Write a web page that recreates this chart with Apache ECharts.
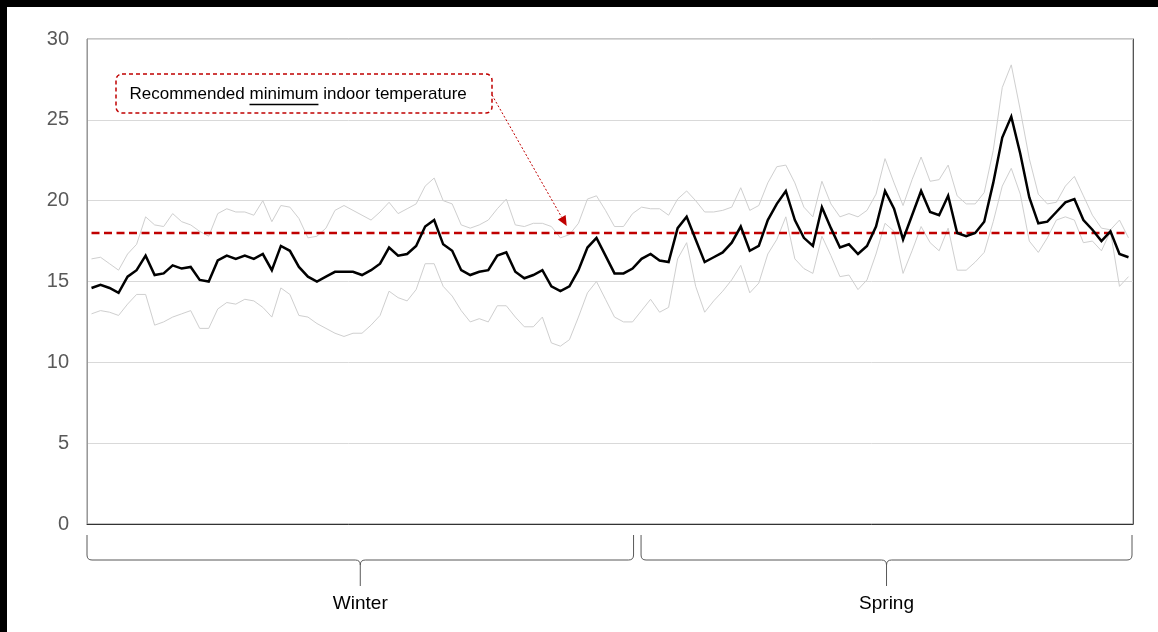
<!DOCTYPE html>
<html>
<head>
<meta charset="utf-8">
<script src="https://cdn.jsdelivr.net/npm/echarts@6/dist/echarts.min.js"></script>
<style>
  html, body { margin: 0; padding: 0; background: #fff; }
  #chart { width: 1158px; height: 632px; }
</style>
</head>
<body>
<div id="chart"></div>
<script>
// ---- data (daily indoor temperature, °C) ----
const meanTemp = [
  14.6,14.8,14.6,14.3,15.3,15.7,16.6,15.4,15.5,16.0,15.8,15.9,15.1,15.0,16.3,16.6,16.4,16.6,16.4,16.7,
  15.7,17.2,16.9,15.9,15.3,15.0,15.3,15.6,15.6,15.6,15.4,15.7,16.1,17.1,16.6,16.7,17.2,18.4,18.8,17.3,
  16.9,15.7,15.4,15.6,15.7,16.6,16.8,15.6,15.2,15.4,15.7,14.7,14.4,14.7,15.7,17.1,17.7,16.6,15.5,15.5,
  15.8,16.4,16.7,16.3,16.2,18.3,19.0,17.6,16.2,16.5,16.8,17.4,18.4,16.9,17.2,18.8,19.8,20.6,18.8,17.7,
  17.2,19.6,18.3,17.1,17.3,16.7,17.2,18.4,20.6,19.5,17.6,19.1,20.6,19.3,19.1,20.3,18.0,17.8,18.0,18.7,
  21.1,23.9,25.2,22.9,20.2,18.6,18.7,19.3,19.9,20.1,18.8,18.2,17.5,18.1,16.7,16.5
];
const maxTemp = [
  16.4,16.5,16.1,15.7,16.7,17.3,19.0,18.5,18.4,19.2,18.7,18.5,18.1,17.8,19.2,19.5,19.3,19.3,19.1,20.0,
  18.7,19.7,19.6,18.9,17.7,17.8,18.3,19.4,19.7,19.4,19.1,18.8,19.3,19.9,19.2,19.5,19.8,20.9,21.4,20.0,
  19.8,18.5,18.3,18.5,18.8,19.5,20.1,18.5,18.4,18.6,18.6,18.4,17.7,17.9,18.6,20.1,20.3,19.4,18.4,18.4,
  19.2,19.6,19.5,19.5,19.1,20.1,20.6,20.0,19.3,19.3,19.4,19.6,20.8,19.4,19.7,21.1,22.1,22.2,21.1,19.6,
  19.0,21.2,19.8,19.0,19.2,19.0,19.4,20.4,22.6,21.1,19.7,21.3,22.7,21.2,21.3,22.2,20.3,19.8,19.8,20.5,
  23.1,27.0,28.4,25.6,22.6,20.4,19.8,19.9,20.9,21.5,20.3,19.1,18.3,18.2,18.8,17.7
];
const minTemp = [
  13.0,13.2,13.1,12.9,13.6,14.2,14.2,12.3,12.5,12.8,13.0,13.2,12.1,12.1,13.3,13.7,13.6,13.9,13.8,13.4,
  12.8,14.6,14.2,12.9,12.8,12.4,12.1,11.8,11.6,11.8,11.8,12.3,12.9,14.4,14.0,13.8,14.5,16.1,16.1,14.7,
  14.1,13.2,12.5,12.7,12.5,13.5,13.5,12.8,12.2,12.2,12.8,11.2,11.0,11.4,12.8,14.3,15.0,13.9,12.8,12.5,
  12.5,13.2,13.9,13.1,13.4,16.4,17.4,14.7,13.1,13.8,14.4,15.1,16.0,14.3,14.9,16.7,17.6,19.0,16.4,15.8,
  15.5,17.8,16.6,15.3,15.4,14.5,15.1,16.7,18.6,18.1,15.5,16.9,18.4,17.4,16.9,18.3,15.7,15.7,16.2,16.8,
  18.7,20.9,22.0,20.4,17.5,16.8,17.7,18.8,19.0,18.8,17.4,17.5,16.9,18.1,14.7,15.3
];
const recommendedMin = 18;
const seasons = ['Winter', 'Spring'];
const seasonFirstDay = [0, 61];          // index of first day of each season
const yTicks = [0, 5, 10, 15, 20, 25, 30];
const annotationParts = ['Recommended ', 'minimum', ' indoor temperature'];

const days = meanTemp.map((_, i) => 'Day ' + (i + 1));
const FONT = '"Liberation Sans", Arial, Helvetica, sans-serif';

const chart = echarts.init(document.getElementById('chart'), null, { renderer: 'canvas' });

chart.setOption({
  animation: false,
  backgroundColor: '#ffffff',
  grid: {
    left: 87, right: 25, top: 39, bottom: 108,
    show: true, borderColor: '#8c8c8c', borderWidth: 1, backgroundColor: 'transparent'
  },
  xAxis: {
    type: 'category',
    data: days,
    boundaryGap: true,
    axisLine: { show: true, lineStyle: { color: '#333333', width: 1 } },
    axisTick: { show: false },
    axisLabel: { show: false },
    splitLine: { show: false }
  },
  yAxis: [{
    type: 'value',
    min: yTicks[0], max: yTicks[yTicks.length - 1], interval: yTicks[1] - yTicks[0],
    axisLine: { show: true, lineStyle: { color: '#999999', width: 1 } },
    axisTick: { show: false },
    axisLabel: { color: '#595959', fontSize: 20, fontFamily: FONT, margin: 18 },
    splitLine: { show: true, lineStyle: { color: '#d9d9d9', width: 1 } }
  }, {
    type: 'value', position: 'right',
    min: yTicks[0], max: yTicks[yTicks.length - 1], interval: yTicks[1] - yTicks[0],
    axisLine: { show: true, lineStyle: { color: '#555555', width: 1 } },
    axisTick: { show: false }, axisLabel: { show: false }, splitLine: { show: false }
  }],
  series: [
    { name: 'Max', type: 'line', data: maxTemp, symbol: 'none', z: 2,
      lineStyle: { color: '#cfcfcf', width: 1 } },
    { name: 'Min', type: 'line', data: minTemp, symbol: 'none', z: 2,
      lineStyle: { color: '#cfcfcf', width: 1 } },
    { name: 'Recommended minimum', type: 'line', data: days.map(() => recommendedMin),
      symbol: 'none', z: 3,
      lineStyle: { color: '#c00000', width: 2.5, type: [8, 4.5] } },
    { name: 'Mean', type: 'line', data: meanTemp, symbol: 'none', z: 4,
      lineStyle: { color: '#000000', width: 2.5, join: 'miter' } }
  ]
});

// ---- decorations computed from the chart's scales ----
const px = (i) => chart.convertToPixel({ xAxisIndex: 0 }, i);
const py = (v) => chart.convertToPixel({ yAxisIndex: 0 }, v);
const band = px(1) - px(0);
const graphics = [];

// black frame strips (top, left)
graphics.push({ type: 'rect', shape: { x: 0, y: 0, width: 1158, height: 7 }, style: { fill: '#000' }, z: 100 });
graphics.push({ type: 'rect', shape: { x: 0, y: 0, width: 7, height: 632 }, style: { fill: '#000' }, z: 100 });

// season brackets
const bStyle = { stroke: '#595959', lineWidth: 1, fill: null };
const seg = (x1, y1, x2, y2) => graphics.push({ type: 'line', shape: { x1, y1, x2, y2 }, style: bStyle });
const curve = (x1, y1, cx, cy, x2, y2) => graphics.push({ type: 'bezierCurve',
  shape: { x1, y1, x2, y2, cpx1: cx, cpy1: cy }, style: bStyle });
const y0 = py(0);
const bTop = y0 + 11, bMid = y0 + 36, bTip = y0 + 62, labelY = y0 + 80;
seasons.forEach((name, s) => {
  const first = seasonFirstDay[s];
  const last = s + 1 < seasons.length ? seasonFirstDay[s + 1] - 1 : meanTemp.length - 1;
  let xa = px(first) - band / 2;
  let xb = px(last) + band / 2;
  if (s > 0) xa += 4;
  if (s < seasons.length - 1) xb -= 3.5; else xb -= 1;
  const xc = (xa + xb) / 2;
  const r = 5;
  seg(xa, bTop, xa, bMid - r);
  curve(xa, bMid - r, xa, bMid, xa + r, bMid);
  seg(xa + r, bMid, xc - r, bMid);
  curve(xc - r, bMid, xc, bMid, xc, bMid + r);
  seg(xc, bMid + r, xc, bTip);
  curve(xc, bMid + r, xc, bMid, xc + r, bMid);
  seg(xc + r, bMid, xb - r, bMid);
  curve(xb - r, bMid, xb, bMid, xb, bMid - r);
  seg(xb, bMid - r, xb, bTop);
  graphics.push({ type: 'text', x: xc, y: labelY,
    style: { text: name, fill: '#000', font: '19px ' + FONT, textAlign: 'center', textVerticalAlign: 'middle' } });
});

// annotation box
const boxX = 116, boxY = 74, boxW = 376, boxH = 39;
graphics.push({ type: 'rect', shape: { x: boxX, y: boxY, width: boxW, height: boxH, r: 6 },
  style: { fill: '#fff', stroke: '#c00000', lineWidth: 1.5, lineDash: [4, 3] }, z: 50 });
const textFont = '17px ' + FONT;
const textX = boxX + 13.5, textY = boxY + boxH / 2 + 1;
graphics.push({ type: 'text', x: textX, y: textY, z: 51,
  style: { text: annotationParts.join(''), fill: '#000', font: textFont, textAlign: 'left', textVerticalAlign: 'middle' } });
// underline of the emphasized word
const ctx = document.createElement('canvas').getContext('2d');
ctx.font = textFont;
const ulStart = textX + ctx.measureText(annotationParts[0]).width;
const ulEnd = ulStart + ctx.measureText(annotationParts[1]).width;
graphics.push({ type: 'line', shape: { x1: ulStart, y1: textY + 10, x2: ulEnd, y2: textY + 10 },
  style: { stroke: '#000', lineWidth: 1.5 }, z: 51 });

// dotted arrow from the box to the threshold line
const ax1 = boxX + boxW, ay1 = boxY + 21;
const ax2 = 566.7, ay2 = py(recommendedMin) - 7;
const ang = Math.atan2(ay2 - ay1, ax2 - ax1);
const headLen = 10, headHalf = 4.5;
const bx = ax2 - headLen * Math.cos(ang), by = ay2 - headLen * Math.sin(ang);
graphics.push({ type: 'line', shape: { x1: ax1, y1: ay1, x2: bx, y2: by },
  style: { stroke: '#c00000', lineWidth: 1, lineDash: [2, 2] }, z: 52 });
graphics.push({ type: 'polygon', shape: { points: [
    [ax2, ay2],
    [bx + headHalf * Math.sin(ang), by - headHalf * Math.cos(ang)],
    [bx - headHalf * Math.sin(ang), by + headHalf * Math.cos(ang)]
  ] }, style: { fill: '#c00000' }, z: 52 });

chart.setOption({ graphic: graphics });
</script>
</body>
</html>
